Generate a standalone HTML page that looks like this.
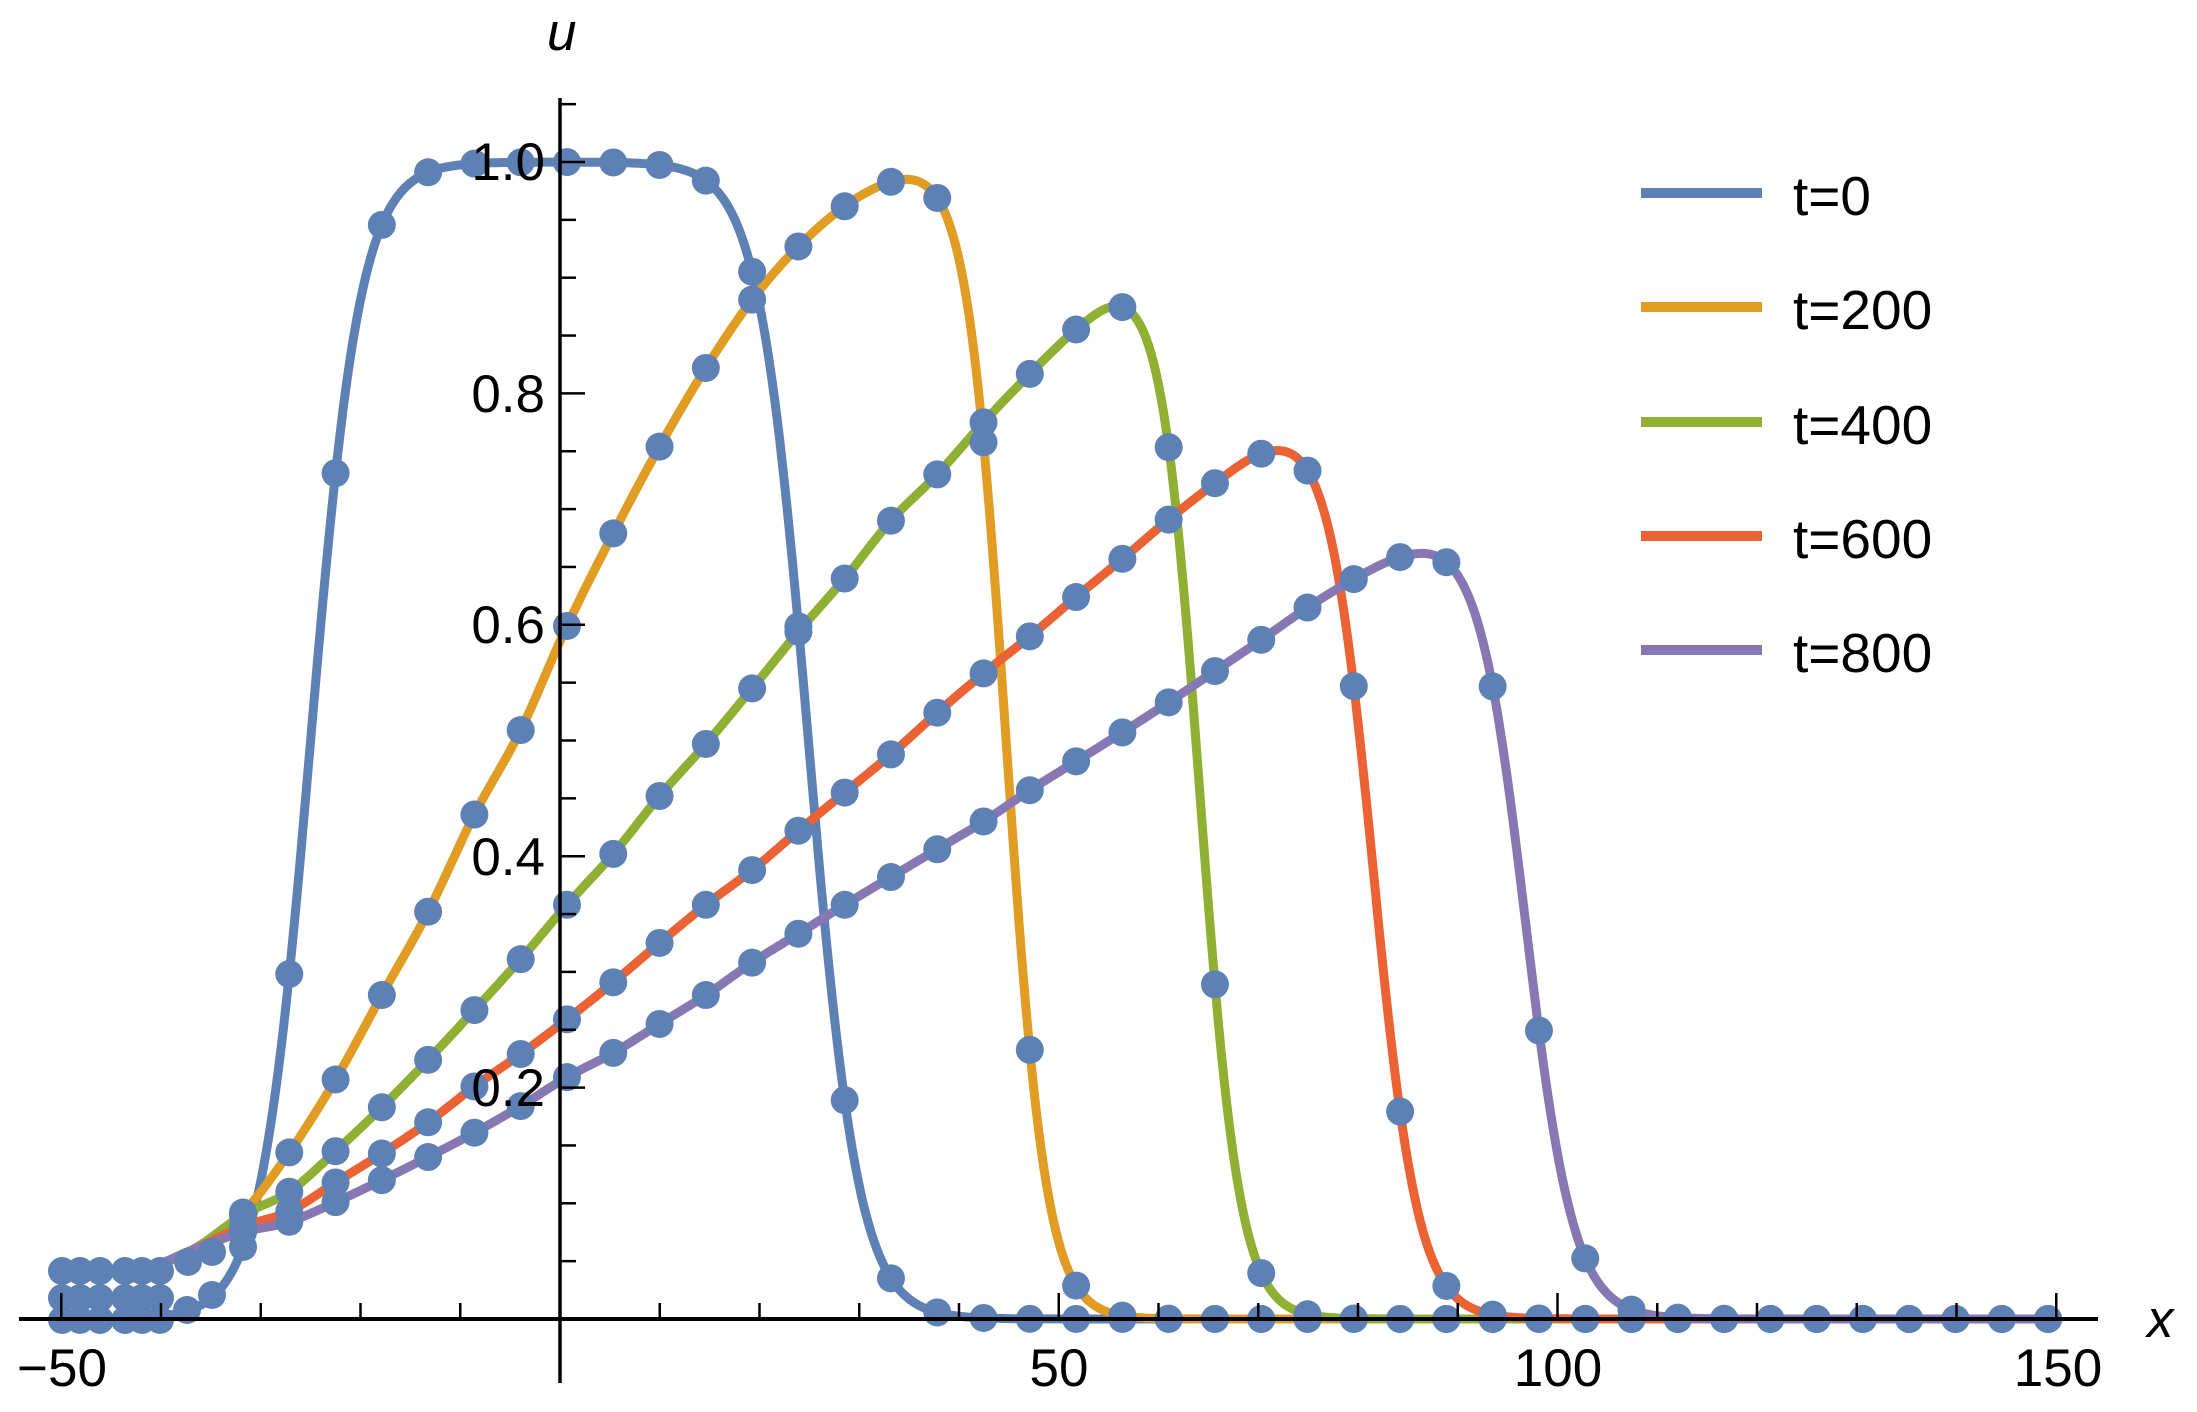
<!DOCTYPE html>
<html><head><meta charset="utf-8"><style>
html,body{margin:0;padding:0;background:#fff}
svg{display:block}
text{font-family:"Liberation Sans",sans-serif;fill:#000}
</style></head><body>
<svg id="s" width="2197" height="1412" viewBox="0 0 2197 1412" xmlns="http://www.w3.org/2000/svg">
<g id="lines"></g><g id="dots" fill="#5E81B5"></g><g id="axes"></g>
<g font-size="53">
<text x="545" y="1106" text-anchor="end">0.2</text>
<text x="545" y="875" text-anchor="end">0.4</text>
<text x="545" y="643" text-anchor="end">0.6</text>
<text x="545" y="412" text-anchor="end">0.8</text>
<text x="545" y="180" text-anchor="end">1.0</text>
<text x="62" y="1386" text-anchor="middle">−50</text>
<text x="1059" y="1386" text-anchor="middle">50</text>
<text x="1558" y="1386" text-anchor="middle">100</text>
<text x="2058" y="1386" text-anchor="middle">150</text>
<text x="547" y="50" font-style="italic">u</text>
<text x="2147" y="1337" font-style="italic">x</text>
</g>
<g stroke-width="10">
<line x1="1641" y1="193" x2="1762" y2="193" stroke="#5E81B5"/>
<line x1="1641" y1="307" x2="1762" y2="307" stroke="#E19C24"/>
<line x1="1641" y1="422" x2="1762" y2="422" stroke="#8FB032"/>
<line x1="1641" y1="536" x2="1762" y2="536" stroke="#EB6235"/>
<line x1="1641" y1="650" x2="1762" y2="650" stroke="#8778B3"/>
</g>
<g font-size="55">
<text x="1793" y="215">t=0</text>
<text x="1793" y="329">t=200</text>
<text x="1793" y="444">t=400</text>
<text x="1793" y="558">t=600</text>
<text x="1793" y="672">t=800</text>
</g>
</svg>
<script>
var NS="http://www.w3.org/2000/svg";
function X(x){return 560+9.975*x;}
function Y(u){return 1319-1157*u;}
function gx(k){return 0.7+4.64*k;}
function interp(pts,x){
 if(x<=pts[0][0])return pts[0][1];
 var n=pts.length;
 if(x>=pts[n-1][0])return pts[n-1][1];
 var i=0;while(pts[i+1][0]<x)i++;
 var x0=pts[i][0],x1=pts[i+1][0],y0=pts[i][1],y1=pts[i+1][1];
 function sl(j){
  if(j<=0)return (pts[1][1]-pts[0][1])/(pts[1][0]-pts[0][0]);
  if(j>=n-1)return (pts[n-1][1]-pts[n-2][1])/(pts[n-1][0]-pts[n-2][0]);
  return (pts[j+1][1]-pts[j-1][1])/(pts[j+1][0]-pts[j-1][0]);
 }
 var h=x1-x0,t=(x-x0)/h,m0=sl(i)*h,m1=sl(i+1)*h;
 var t2=t*t,t3=t2*t;
 return (2*t3-3*t2+1)*y0+(t3-2*t2+t)*m0+(-2*t3+3*t2)*y1+(t3-t2)*m1;
}
function mk(vals,k0){
 var p=[[-50,0.04],[-45,0.04],[-41,0.045],[-36.8,0.06]];
 for(var i=0;i<vals.length;i++)p.push([gx(k0+i),vals[i]]);
 return p;
}
function drop(x,c,w){return (1-Math.tanh((x-c)/w))/2;}
var curves=[
 {col:"#5E81B5",f:function(x){return (1+Math.tanh((x+25.0)/5))/2*drop(x,24.9,5);}},
 {col:"#E19C24",b:mk([0.092,0.144,0.207,0.28,0.352,0.436,0.509,0.599,0.679,0.754,0.822,0.881,0.927,0.962,0.986,1.0,1.005,1.005],-7),c:44.7,w:4},
 {col:"#8FB032",b:mk([0.09,0.11,0.145,0.183,0.224,0.267,0.311,0.358,0.402,0.452,0.497,0.545,0.594,0.64,0.69,0.73,0.775,0.817,0.857,0.893,0.915,0.92],-7),c:64.1,w:4},
 {col:"#EB6235",b:mk([0.08,0.093,0.118,0.143,0.17,0.201,0.229,0.259,0.291,0.325,0.358,0.388,0.422,0.455,0.488,0.524,0.558,0.59,0.624,0.657,0.691,0.723,0.753,0.773,0.78,0.78],-7),c:81.5,w:4.5},
 {col:"#8778B3",b:mk([0.075,0.084,0.101,0.12,0.14,0.161,0.184,0.209,0.23,0.255,0.28,0.308,0.333,0.358,0.382,0.406,0.43,0.457,0.482,0.507,0.533,0.56,0.587,0.615,0.64,0.662,0.678,0.685,0.685],-7),c:96.8,w:4.8}
];
curves.forEach(function(c){ if(!c.f){c.f=function(x){return interp(c.b,x)*drop(x,c.c,c.w);};} });
var L=document.getElementById("lines"),D=document.getElementById("dots"),A=document.getElementById("axes");
curves.forEach(function(c){
 var d="";
 for(var x=-50;x<=150.001;x+=0.25){d+=(d?"L":"M")+X(x).toFixed(1)+","+Y(c.f(x)).toFixed(1);}
 var p=document.createElementNS(NS,"path");
 p.setAttribute("d",d);p.setAttribute("fill","none");p.setAttribute("stroke",c.col);
 p.setAttribute("stroke-width","9");p.setAttribute("stroke-linejoin","round");
 L.appendChild(p);
});
function dot(px,py){var e=document.createElementNS(NS,"circle");e.setAttribute("cx",px);e.setAttribute("cy",py);e.setAttribute("r","14");D.appendChild(e);}
curves.forEach(function(c,i){
 for(var k=-7;k<=32;k++){var x=gx(k);if(x>150)break;dot(X(x),Y(c.f(x)));}
});
[62,80,100,125,142,160].forEach(function(px){dot(px,1320);dot(px,1298);dot(px,1271);});
dot(187,1310);dot(212,1295);dot(188,1262);dot(212,1252);
function ln(x1,y1,x2,y2,w){var e=document.createElementNS(NS,"line");e.setAttribute("x1",x1);e.setAttribute("y1",y1);e.setAttribute("x2",x2);e.setAttribute("y2",y2);e.setAttribute("stroke","#000");e.setAttribute("stroke-width",w);A.appendChild(e);}
ln(19,1319,2098,1319,4);
ln(560,98,560,1383,3.5);
for(var v=-50;v<=150;v+=10){if(v===0)continue;var maj=(v%50===0);ln(X(v),1319,X(v),1319-(maj?26:16),2.5);}
for(var i=1;i<=21;i++){var u=i*0.05;var maj=(i%4===0);ln(560,Y(u),560+(maj?25:16),Y(u),2.5);}
</script>
</body></html>
